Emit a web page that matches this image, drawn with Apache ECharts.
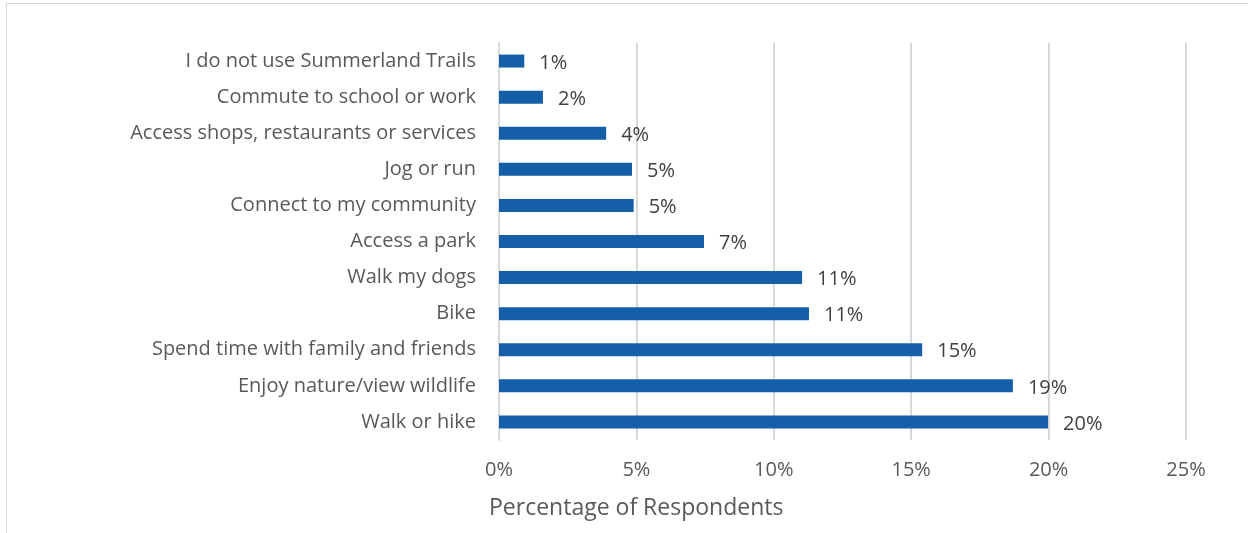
<!DOCTYPE html>
<html>
<head>
<meta charset="utf-8">
<script src="https://cdn.jsdelivr.net/npm/echarts@6/dist/echarts.min.js"></script>
<style>
  html, body { margin: 0; padding: 0; background: #fff; }
  #frame { position: absolute; left: 6px; top: 3px; width: 1300px; height: 600px;
           border-left: 1px solid #d9d9d9; border-top: 1px solid #d9d9d9; }
  #chart { position: absolute; left: 0; top: 0; width: 1248px; height: 533px; }
</style>
</head>
<body>
<div id="frame"></div>
<div id="chart"></div>
<script>
// categories, bottom to top (as ECharts draws a category y axis)
var categories = [
    'Walk or hike',
    'Enjoy nature/view wildlife',
    'Spend time with family and friends',
    'Bike',
    'Walk my dogs',
    'Access a park',
    'Connect to my community',
    'Jog or run',
    'Access shops, restaurants or services',
    'Commute to school or work',
    'I do not use Summerland Trails'
];
// percentage of respondents
var values = [19.98, 18.7, 15.4, 11.28, 11.03, 7.46, 4.9, 4.84, 3.9, 1.6, 0.92];
var labels = ['20%', '19%', '15%', '11%', '11%', '7%', '5%', '5%', '4%', '2%', '1%'];

var fontFamily = '"Open Sans", sans-serif';

var myChart = echarts.init(document.getElementById('chart'));

var option = {
    animation: false,
    title: {
        text: 'Percentage of Respondents',
        left: 484,
        top: 492,
        textStyle: {
            fontFamily: fontFamily,
            fontSize: 23,
            fontWeight: 'normal',
            color: '#595959'
        }
    },
    grid: {
        left: 499,
        right: 62,
        top: 43,
        bottom: 93,
        containLabel: false
    },
    xAxis: {
        type: 'value',
        min: 0,
        max: 25,
        interval: 5,
        axisLine: { show: false },
        axisTick: { show: false },
        axisLabel: {
            formatter: '{value}%',
            margin: 20,
            fontFamily: fontFamily,
            fontSize: 20,
            color: '#595959'
        },
        splitLine: {
            lineStyle: { color: '#d9d9d9', width: 2 }
        }
    },
    yAxis: {
        type: 'category',
        data: categories,
        axisLine: { show: true, lineStyle: { color: '#d9d9d9', width: 2 } },
        axisTick: { show: false },
        axisLabel: {
            margin: 23,
            padding: [4, 0, 0, 0],
            fontFamily: fontFamily,
            fontSize: 20,
            color: '#595959'
        }
    },
    series: [{
        type: 'bar',
        data: values,
        barWidth: 13,
        itemStyle: { color: '#155FA9' },
        label: {
            show: true,
            position: 'right',
            distance: 15,
            offset: [0, 2],
            fontFamily: fontFamily,
            fontSize: 20,
            color: '#404040',
            formatter: function (p) { return labels[p.dataIndex]; }
        }
    }]
};

myChart.setOption(option);
</script>
</body>
</html>
